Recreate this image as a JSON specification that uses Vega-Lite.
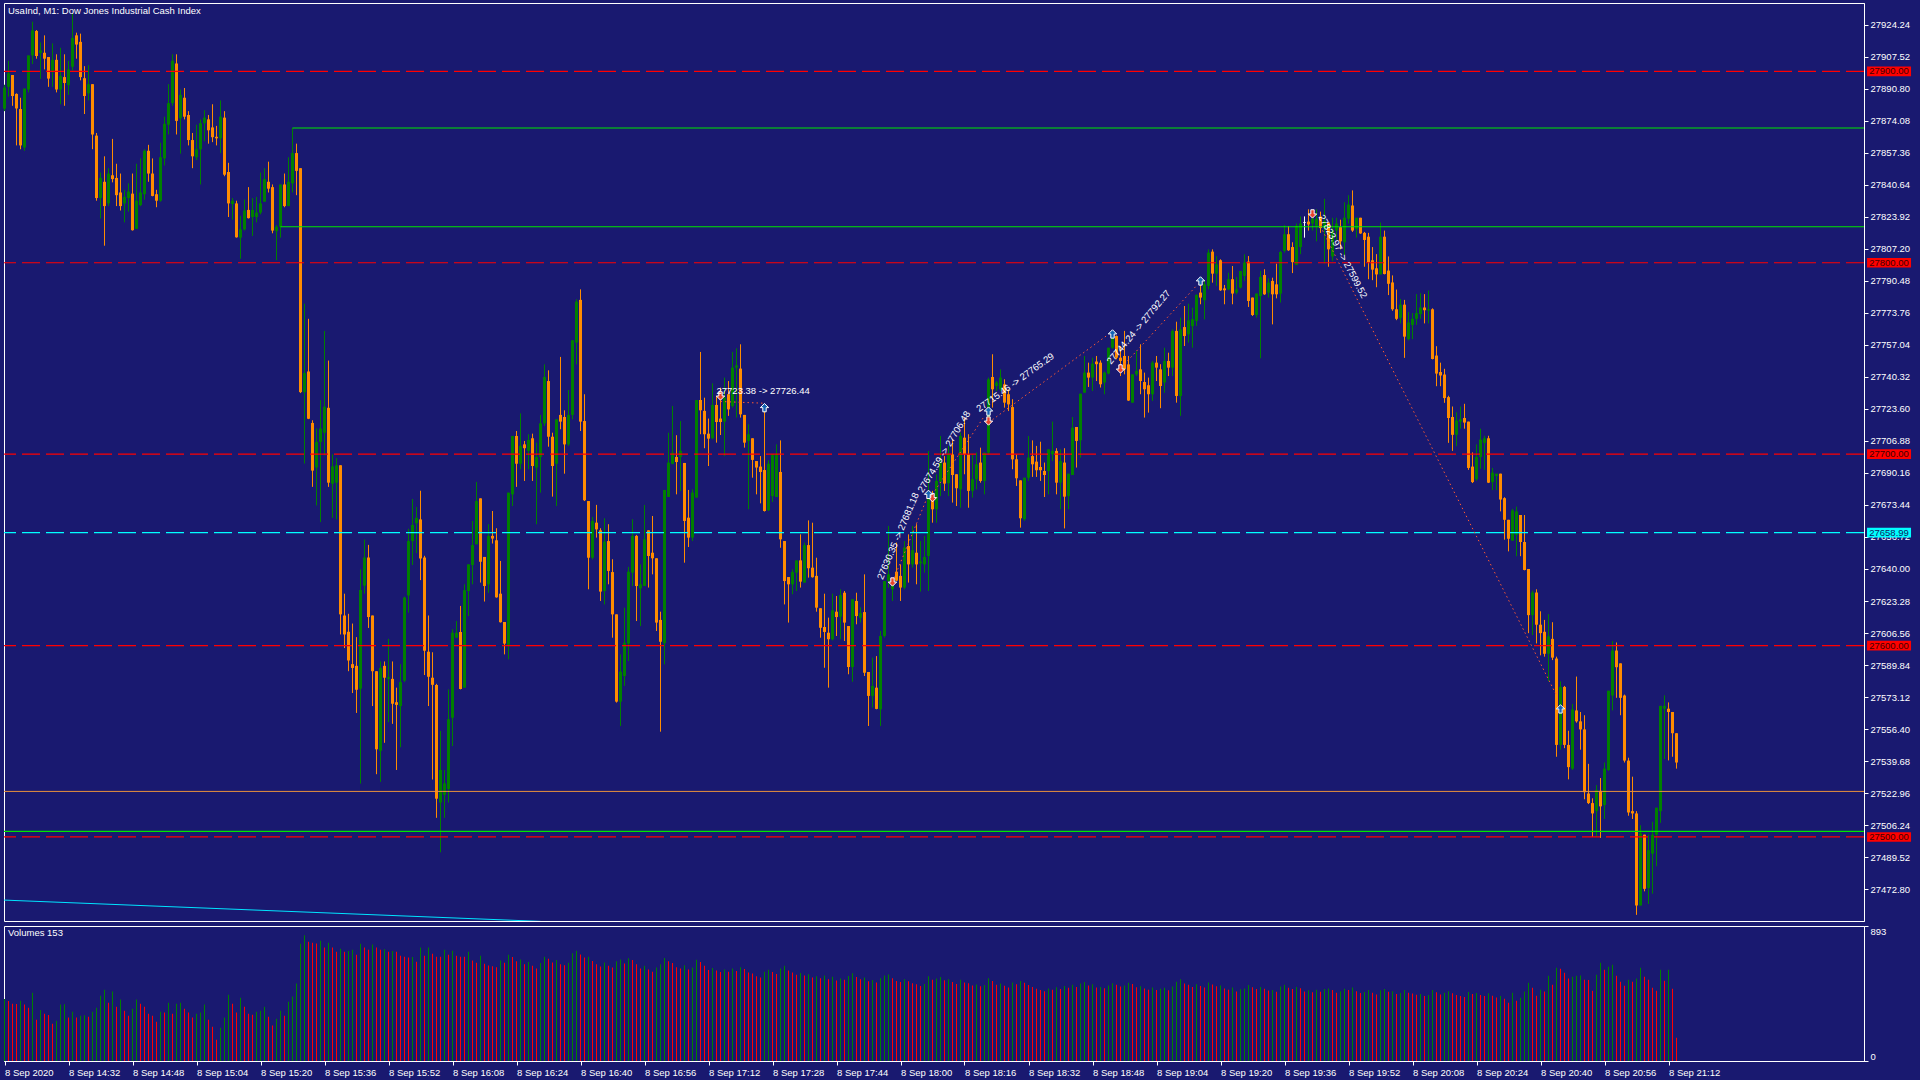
{
  "$schema": "https://vega.github.io/schema/vega-lite/v6.json",
  "background": "#191970",
  "padding": {"left": 2, "top": 2, "right": 8, "bottom": 4},
  "spacing": 3,
  "config": {
    "font": "Liberation Sans",
    "view": {"stroke": "#ffffff", "strokeWidth": 1, "fill": "#191970"},
    "scale": {"continuousPadding": 0},
    "axis": {"labelFont": "Liberation Sans", "labelFontSize": 9.5, "labelColor": "#ffffff", "tickColor": "#ffffff", "domainColor": "#ffffff", "grid": false, "tickSize": 4, "labelPadding": 2, "labelOverlap": false, "labelBound": false},
    "title": {"color": "#ffffff", "font": "Liberation Sans", "fontSize": 9.5, "fontWeight": "normal", "anchor": "start"}
  },
  "resolve": {"scale": {"x": "independent", "y": "independent"}},
  "data": {
    "format": {"parse": {"t": "utc:'%H:%M'"}},
    "values": [
      {"t":"14:16","o":27880.5,"h":27893.0,"l":27879.2,"c":27891.5,"v":410},
      {"t":"14:17","o":27891.9,"h":27905.5,"l":27886.8,"c":27899.0,"v":397},
      {"t":"14:18","o":27898.1,"h":27898.1,"l":27882.0,"c":27887.1,"v":379},
      {"t":"14:19","o":27888.2,"h":27888.5,"l":27861.3,"c":27880.6,"v":377},
      {"t":"14:20","o":27880.3,"h":27886.2,"l":27859.3,"c":27861.3,"v":399},
      {"t":"14:21","o":27860.2,"h":27891.0,"l":27858.5,"c":27891.0,"v":373},
      {"t":"14:22","o":27890.5,"h":27908.3,"l":27889.0,"c":27908.3,"v":353},
      {"t":"14:23","o":27908.3,"h":27925.9,"l":27903.8,"c":27921.4,"v":452},
      {"t":"14:24","o":27921.1,"h":27921.6,"l":27906.6,"c":27908.0,"v":273},
      {"t":"14:25","o":27909.6,"h":27915.1,"l":27896.0,"c":27911.0,"v":337},
      {"t":"14:26","o":27909.7,"h":27918.8,"l":27901.0,"c":27906.6,"v":313},
      {"t":"14:27","o":27907.5,"h":27907.5,"l":27891.9,"c":27896.2,"v":304},
      {"t":"14:28","o":27900.0,"h":27914.6,"l":27891.9,"c":27906.0,"v":247},
      {"t":"14:29","o":27906.0,"h":27908.9,"l":27889.0,"c":27890.5,"v":267},
      {"t":"14:30","o":27890.5,"h":27912.3,"l":27882.8,"c":27897.6,"v":373},
      {"t":"14:31","o":27897.0,"h":27908.9,"l":27882.0,"c":27893.9,"v":376},
      {"t":"14:32","o":27892.8,"h":27905.5,"l":27887.7,"c":27901.0,"v":287},
      {"t":"14:33","o":27902.4,"h":27930.1,"l":27900.4,"c":27917.4,"v":326},
      {"t":"14:34","o":27918.8,"h":27920.2,"l":27906.6,"c":27914.0,"v":287},
      {"t":"14:35","o":27915.4,"h":27919.7,"l":27895.3,"c":27897.0,"v":300},
      {"t":"14:36","o":27896.4,"h":27902.7,"l":27877.7,"c":27887.1,"v":302},
      {"t":"14:37","o":27888.5,"h":27903.2,"l":27884.8,"c":27893.3,"v":293},
      {"t":"14:38","o":27893.3,"h":27893.3,"l":27859.3,"c":27867.0,"v":326},
      {"t":"14:39","o":27866.4,"h":27867.8,"l":27832.4,"c":27833.8,"v":353},
      {"t":"14:40","o":27833.8,"h":27847.1,"l":27823.1,"c":27844.3,"v":432},
      {"t":"14:41","o":27842.3,"h":27855.6,"l":27808.9,"c":27829.6,"v":472},
      {"t":"14:42","o":27831.0,"h":27849.4,"l":27829.6,"c":27846.6,"v":386},
      {"t":"14:43","o":27845.7,"h":27864.7,"l":27842.0,"c":27843.7,"v":459},
      {"t":"14:44","o":27844.3,"h":27851.7,"l":27829.6,"c":27835.3,"v":359},
      {"t":"14:45","o":27836.7,"h":27846.6,"l":27827.3,"c":27829.6,"v":406},
      {"t":"14:46","o":27831.0,"h":27838.1,"l":27821.1,"c":27834.4,"v":333},
      {"t":"14:47","o":27833.8,"h":27841.5,"l":27826.7,"c":27837.2,"v":300},
      {"t":"14:48","o":27836.1,"h":27846.6,"l":27816.8,"c":27817.0,"v":346},
      {"t":"14:49","o":27817.7,"h":27851.7,"l":27817.7,"c":27832.4,"v":406},
      {"t":"14:50","o":27830.1,"h":27854.5,"l":27829.6,"c":27836.7,"v":379},
      {"t":"14:51","o":27835.8,"h":27859.3,"l":27833.0,"c":27858.5,"v":359},
      {"t":"14:52","o":27858.5,"h":27861.6,"l":27842.3,"c":27846.6,"v":313},
      {"t":"14:53","o":27846.6,"h":27854.5,"l":27834.7,"c":27834.9,"v":300},
      {"t":"14:54","o":27835.8,"h":27838.1,"l":27829.0,"c":27832.4,"v":260},
      {"t":"14:55","o":27832.4,"h":27862.7,"l":27831.9,"c":27855.1,"v":326},
      {"t":"14:56","o":27854.5,"h":27876.3,"l":27850.8,"c":27872.6,"v":320},
      {"t":"14:57","o":27872.1,"h":27893.3,"l":27867.0,"c":27883.4,"v":386},
      {"t":"14:58","o":27883.4,"h":27908.9,"l":27882.0,"c":27905.5,"v":313},
      {"t":"14:59","o":27904.1,"h":27908.9,"l":27867.0,"c":27874.1,"v":379},
      {"t":"15:00","o":27875.5,"h":27890.5,"l":27857.0,"c":27887.7,"v":386},
      {"t":"15:01","o":27886.2,"h":27891.3,"l":27874.9,"c":27876.3,"v":346},
      {"t":"15:02","o":27877.2,"h":27879.2,"l":27861.3,"c":27864.1,"v":320},
      {"t":"15:03","o":27864.1,"h":27867.8,"l":27849.4,"c":27855.6,"v":287},
      {"t":"15:04","o":27855.1,"h":27872.1,"l":27853.6,"c":27859.3,"v":313},
      {"t":"15:05","o":27859.3,"h":27874.9,"l":27840.9,"c":27872.9,"v":320},
      {"t":"15:06","o":27872.9,"h":27879.7,"l":27863.5,"c":27875.8,"v":373},
      {"t":"15:07","o":27874.9,"h":27877.2,"l":27862.2,"c":27869.2,"v":273},
      {"t":"15:08","o":27870.7,"h":27882.8,"l":27863.0,"c":27865.6,"v":227},
      {"t":"15:09","o":27865.8,"h":27871.5,"l":27861.3,"c":27865.0,"v":141},
      {"t":"15:10","o":27865.0,"h":27884.8,"l":27857.3,"c":27876.3,"v":220},
      {"t":"15:11","o":27875.8,"h":27879.2,"l":27845.2,"c":27846.0,"v":287},
      {"t":"15:12","o":27847.4,"h":27852.2,"l":27823.9,"c":27831.0,"v":439},
      {"t":"15:13","o":27830.7,"h":27833.8,"l":27822.5,"c":27832.4,"v":379},
      {"t":"15:14","o":27831.0,"h":27832.4,"l":27813.1,"c":27813.3,"v":320},
      {"t":"15:15","o":27813.1,"h":27824.5,"l":27802.1,"c":27817.4,"v":419},
      {"t":"15:16","o":27817.4,"h":27833.0,"l":27816.8,"c":27827.3,"v":359},
      {"t":"15:17","o":27827.6,"h":27839.5,"l":27823.1,"c":27823.3,"v":313},
      {"t":"15:18","o":27823.9,"h":27833.8,"l":27814.0,"c":27827.6,"v":306},
      {"t":"15:19","o":27823.9,"h":27834.4,"l":27821.1,"c":27826.2,"v":326},
      {"t":"15:20","o":27826.2,"h":27847.1,"l":27825.3,"c":27831.0,"v":333},
      {"t":"15:21","o":27831.9,"h":27849.4,"l":27831.9,"c":27843.7,"v":359},
      {"t":"15:22","o":27842.3,"h":27852.8,"l":27836.7,"c":27838.7,"v":293},
      {"t":"15:23","o":27839.5,"h":27840.9,"l":27815.4,"c":27816.8,"v":234},
      {"t":"15:24","o":27816.5,"h":27819.7,"l":27801.3,"c":27818.8,"v":280},
      {"t":"15:25","o":27818.8,"h":27840.9,"l":27813.1,"c":27840.9,"v":333},
      {"t":"15:26","o":27840.9,"h":27846.6,"l":27829.0,"c":27829.6,"v":300},
      {"t":"15:27","o":27829.6,"h":27855.1,"l":27829.6,"c":27842.3,"v":392},
      {"t":"15:28","o":27841.5,"h":27870.4,"l":27836.7,"c":27857.3,"v":426},
      {"t":"15:29","o":27857.3,"h":27862.2,"l":27835.3,"c":27848.0,"v":512},
      {"t":"15:30","o":27849.4,"h":27849.4,"l":27731.9,"c":27732.4,"v":776},
      {"t":"15:31","o":27732.4,"h":27778.6,"l":27695.1,"c":27742.4,"v":831},
      {"t":"15:32","o":27743.2,"h":27770.7,"l":27718.3,"c":27718.5,"v":789},
      {"t":"15:33","o":27716.3,"h":27717.7,"l":27682.9,"c":27691.4,"v":783},
      {"t":"15:34","o":27693.0,"h":27713.4,"l":27673.2,"c":27706.4,"v":778},
      {"t":"15:35","o":27706.4,"h":27728.2,"l":27664.5,"c":27713.4,"v":796},
      {"t":"15:36","o":27711.2,"h":27764.4,"l":27699.3,"c":27724.8,"v":750},
      {"t":"15:37","o":27724.2,"h":27748.9,"l":27682.9,"c":27685.1,"v":783},
      {"t":"15:38","o":27684.6,"h":27699.9,"l":27666.7,"c":27693.6,"v":750},
      {"t":"15:39","o":27685.1,"h":27697.9,"l":27665.9,"c":27694.2,"v":723},
      {"t":"15:40","o":27694.2,"h":27694.2,"l":27605.8,"c":27616.3,"v":743},
      {"t":"15:41","o":27615.7,"h":27627.1,"l":27598.7,"c":27605.8,"v":723},
      {"t":"15:42","o":27607.2,"h":27616.6,"l":27586.6,"c":27592.2,"v":728},
      {"t":"15:43","o":27590.3,"h":27611.5,"l":27575.2,"c":27588.3,"v":736},
      {"t":"15:44","o":27589.4,"h":27604.4,"l":27564.8,"c":27576.9,"v":703},
      {"t":"15:45","o":27577.5,"h":27639.8,"l":27527.9,"c":27629.0,"v":776},
      {"t":"15:46","o":27631.3,"h":27655.4,"l":27627.1,"c":27646.0,"v":750},
      {"t":"15:47","o":27646.0,"h":27652.6,"l":27609.2,"c":27614.9,"v":736},
      {"t":"15:48","o":27615.7,"h":27615.7,"l":27568.4,"c":27586.6,"v":770},
      {"t":"15:49","o":27586.6,"h":27586.6,"l":27532.8,"c":27545.8,"v":750},
      {"t":"15:50","o":27545.0,"h":27591.7,"l":27528.8,"c":27588.3,"v":736},
      {"t":"15:51","o":27589.4,"h":27591.7,"l":27549.2,"c":27583.2,"v":740},
      {"t":"15:52","o":27582.6,"h":27603.5,"l":27560.0,"c":27583.5,"v":723},
      {"t":"15:53","o":27582.6,"h":27591.7,"l":27559.1,"c":27569.6,"v":727},
      {"t":"15:54","o":27570.4,"h":27578.0,"l":27535.0,"c":27569.0,"v":723},
      {"t":"15:55","o":27568.4,"h":27590.3,"l":27546.9,"c":27580.9,"v":697},
      {"t":"15:56","o":27581.7,"h":27625.6,"l":27580.9,"c":27625.1,"v":690},
      {"t":"15:57","o":27626.2,"h":27661.0,"l":27617.2,"c":27654.6,"v":684},
      {"t":"15:58","o":27654.6,"h":27676.6,"l":27642.1,"c":27663.0,"v":688},
      {"t":"15:59","o":27663.9,"h":27672.4,"l":27648.3,"c":27666.7,"v":657},
      {"t":"16:00","o":27665.9,"h":27680.9,"l":27634.2,"c":27645.5,"v":750},
      {"t":"16:01","o":27646.0,"h":27646.9,"l":27584.6,"c":27597.3,"v":697},
      {"t":"16:02","o":27596.8,"h":27615.7,"l":27568.4,"c":27583.7,"v":750},
      {"t":"16:03","o":27583.2,"h":27596.5,"l":27530.0,"c":27579.5,"v":710},
      {"t":"16:04","o":27579.4,"h":27580.0,"l":27510.0,"c":27520.0,"v":690},
      {"t":"16:05","o":27518.0,"h":27555.4,"l":27492.0,"c":27535.0,"v":690},
      {"t":"16:06","o":27522.0,"h":27535.0,"l":27510.0,"c":27528.0,"v":736},
      {"t":"16:07","o":27525.0,"h":27577.1,"l":27518.0,"c":27561.5,"v":703},
      {"t":"16:08","o":27562.3,"h":27608.5,"l":27547.5,"c":27606.7,"v":730},
      {"t":"16:09","o":27604.1,"h":27612.8,"l":27604.1,"c":27606.7,"v":697},
      {"t":"16:10","o":27607.1,"h":27620.7,"l":27577.1,"c":27577.3,"v":690},
      {"t":"16:11","o":27578.0,"h":27632.0,"l":27578.0,"c":27628.9,"v":690},
      {"t":"16:12","o":27628.5,"h":27642.4,"l":27615.4,"c":27642.4,"v":723},
      {"t":"16:13","o":27642.1,"h":27665.1,"l":27632.0,"c":27652.5,"v":664},
      {"t":"16:14","o":27652.9,"h":27685.5,"l":27652.9,"c":27675.5,"v":650},
      {"t":"16:15","o":27676.9,"h":27676.9,"l":27632.9,"c":27643.8,"v":697},
      {"t":"16:16","o":27646.3,"h":27646.3,"l":27623.0,"c":27631.1,"v":644},
      {"t":"16:17","o":27632.0,"h":27663.4,"l":27627.6,"c":27657.3,"v":631},
      {"t":"16:18","o":27657.3,"h":27670.3,"l":27653.3,"c":27655.9,"v":626},
      {"t":"16:19","o":27655.0,"h":27661.3,"l":27625.0,"c":27625.2,"v":620},
      {"t":"16:20","o":27627.1,"h":27644.2,"l":27612.0,"c":27612.2,"v":664},
      {"t":"16:21","o":27612.3,"h":27612.3,"l":27595.4,"c":27601.0,"v":650},
      {"t":"16:22","o":27600.3,"h":27679.9,"l":27592.8,"c":27679.9,"v":702},
      {"t":"16:23","o":27679.0,"h":27709.5,"l":27672.9,"c":27709.5,"v":688},
      {"t":"16:24","o":27709.5,"h":27712.1,"l":27682.9,"c":27695.0,"v":660},
      {"t":"16:25","o":27695.0,"h":27721.3,"l":27692.1,"c":27704.3,"v":671},
      {"t":"16:26","o":27705.1,"h":27706.9,"l":27686.0,"c":27703.1,"v":640},
      {"t":"16:27","o":27701.7,"h":27710.4,"l":27692.1,"c":27707.4,"v":655},
      {"t":"16:28","o":27708.3,"h":27710.7,"l":27686.0,"c":27693.8,"v":630},
      {"t":"16:29","o":27693.0,"h":27706.0,"l":27663.4,"c":27698.5,"v":612},
      {"t":"16:30","o":27698.5,"h":27720.5,"l":27679.9,"c":27716.1,"v":648},
      {"t":"16:31","o":27716.1,"h":27746.9,"l":27714.7,"c":27740.3,"v":690},
      {"t":"16:32","o":27738.2,"h":27743.8,"l":27703.9,"c":27709.1,"v":676},
      {"t":"16:33","o":27709.1,"h":27711.2,"l":27677.8,"c":27693.8,"v":652},
      {"t":"16:34","o":27695.0,"h":27718.2,"l":27672.9,"c":27718.2,"v":668},
      {"t":"16:35","o":27720.5,"h":27750.8,"l":27713.0,"c":27717.0,"v":640},
      {"t":"16:36","o":27719.4,"h":27722.9,"l":27689.8,"c":27705.1,"v":633},
      {"t":"16:37","o":27705.1,"h":27733.5,"l":27704.3,"c":27720.5,"v":650},
      {"t":"16:38","o":27720.5,"h":27759.5,"l":27718.2,"c":27759.5,"v":712},
      {"t":"16:39","o":27758.3,"h":27780.9,"l":27746.9,"c":27779.7,"v":730},
      {"t":"16:40","o":27780.6,"h":27786.1,"l":27712.1,"c":27717.0,"v":705},
      {"t":"16:41","o":27717.3,"h":27731.3,"l":27675.5,"c":27675.9,"v":684},
      {"t":"16:42","o":27675.5,"h":27675.5,"l":27629.4,"c":27645.9,"v":690},
      {"t":"16:43","o":27645.9,"h":27667.2,"l":27645.0,"c":27665.1,"v":662},
      {"t":"16:44","o":27664.2,"h":27673.5,"l":27656.4,"c":27660.7,"v":640},
      {"t":"16:45","o":27660.2,"h":27661.3,"l":27623.3,"c":27628.2,"v":625},
      {"t":"16:46","o":27628.5,"h":27666.5,"l":27621.5,"c":27654.3,"v":652},
      {"t":"16:47","o":27654.6,"h":27663.4,"l":27632.0,"c":27639.0,"v":630},
      {"t":"16:48","o":27638.4,"h":27645.1,"l":27604.1,"c":27616.3,"v":618},
      {"t":"16:49","o":27616.3,"h":27616.3,"l":27570.2,"c":27570.7,"v":660},
      {"t":"16:50","o":27570.7,"h":27595.4,"l":27558.0,"c":27586.4,"v":672},
      {"t":"16:51","o":27584.1,"h":27619.8,"l":27578.9,"c":27601.5,"v":645},
      {"t":"16:52","o":27601.0,"h":27641.1,"l":27591.9,"c":27638.6,"v":680},
      {"t":"16:53","o":27638.1,"h":27666.0,"l":27631.1,"c":27657.3,"v":668},
      {"t":"16:54","o":27657.3,"h":27657.8,"l":27612.8,"c":27631.1,"v":640},
      {"t":"16:55","o":27629.9,"h":27642.4,"l":27610.2,"c":27632.0,"v":612},
      {"t":"16:56","o":27631.1,"h":27673.5,"l":27631.1,"c":27655.5,"v":630},
      {"t":"16:57","o":27660.2,"h":27660.2,"l":27630.3,"c":27646.8,"v":605},
      {"t":"16:58","o":27648.5,"h":27667.7,"l":27637.2,"c":27645.6,"v":590},
      {"t":"16:59","o":27645.6,"h":27645.6,"l":27607.6,"c":27612.0,"v":618},
      {"t":"17:00","o":27613.4,"h":27617.7,"l":27555.0,"c":27602.0,"v":640},
      {"t":"17:01","o":27601.2,"h":27681.3,"l":27590.2,"c":27681.3,"v":682},
      {"t":"17:02","o":27677.6,"h":27711.2,"l":27677.6,"c":27695.6,"v":660},
      {"t":"17:03","o":27695.0,"h":27725.2,"l":27694.7,"c":27700.8,"v":648},
      {"t":"17:04","o":27698.5,"h":27709.9,"l":27679.0,"c":27695.9,"v":620},
      {"t":"17:05","o":27698.5,"h":27717.3,"l":27680.8,"c":27701.7,"v":612},
      {"t":"17:06","o":27695.4,"h":27695.4,"l":27643.3,"c":27665.1,"v":634},
      {"t":"17:07","o":27666.8,"h":27681.3,"l":27651.5,"c":27656.4,"v":605},
      {"t":"17:08","o":27656.4,"h":27681.6,"l":27654.6,"c":27679.9,"v":618},
      {"t":"17:09","o":27677.3,"h":27728.3,"l":27677.3,"c":27728.3,"v":670},
      {"t":"17:10","o":27728.3,"h":27753.4,"l":27710.4,"c":27722.9,"v":655},
      {"t":"17:11","o":27722.6,"h":27729.5,"l":27703.1,"c":27710.4,"v":630},
      {"t":"17:12","o":27710.7,"h":27718.6,"l":27693.8,"c":27708.1,"v":602},
      {"t":"17:13","o":27708.3,"h":27737.0,"l":27707.8,"c":27725.7,"v":615},
      {"t":"17:14","o":27725.7,"h":27730.4,"l":27706.0,"c":27716.8,"v":598},
      {"t":"17:15","o":27718.6,"h":27734.7,"l":27710.0,"c":27716.8,"v":588},
      {"t":"17:16","o":27717.0,"h":27740.0,"l":27699.0,"c":27729.5,"v":606},
      {"t":"17:17","o":27731.3,"h":27738.2,"l":27720.0,"c":27723.4,"v":590},
      {"t":"17:18","o":27725.2,"h":27753.4,"l":27724.3,"c":27745.2,"v":612},
      {"t":"17:19","o":27745.2,"h":27755.3,"l":27719.1,"c":27746.4,"v":596},
      {"t":"17:20","o":27744.7,"h":27757.4,"l":27719.1,"c":27720.8,"v":620},
      {"t":"17:21","o":27720.5,"h":27720.5,"l":27703.4,"c":27706.0,"v":608},
      {"t":"17:22","o":27706.9,"h":27715.6,"l":27671.2,"c":27710.4,"v":585},
      {"t":"17:23","o":27708.3,"h":27708.3,"l":27687.7,"c":27697.0,"v":578},
      {"t":"17:24","o":27696.4,"h":27696.4,"l":27679.0,"c":27693.0,"v":560},
      {"t":"17:25","o":27693.5,"h":27699.0,"l":27674.3,"c":27690.7,"v":552},
      {"t":"17:26","o":27691.7,"h":27724.3,"l":27670.0,"c":27670.3,"v":590},
      {"t":"17:27","o":27670.7,"h":27696.8,"l":27670.3,"c":27695.0,"v":604},
      {"t":"17:28","o":27678.1,"h":27699.9,"l":27675.0,"c":27699.9,"v":588},
      {"t":"17:29","o":27677.6,"h":27705.1,"l":27677.6,"c":27699.9,"v":575},
      {"t":"17:30","o":27690.7,"h":27707.2,"l":27651.1,"c":27655.5,"v":612},
      {"t":"17:31","o":27654.6,"h":27654.6,"l":27621.5,"c":27633.7,"v":630},
      {"t":"17:32","o":27635.8,"h":27635.8,"l":27612.0,"c":27632.0,"v":598},
      {"t":"17:33","o":27632.0,"h":27639.8,"l":27626.8,"c":27638.4,"v":585},
      {"t":"17:34","o":27638.1,"h":27644.5,"l":27628.5,"c":27644.5,"v":570},
      {"t":"17:35","o":27644.5,"h":27658.1,"l":27630.3,"c":27633.4,"v":582},
      {"t":"17:36","o":27632.9,"h":27653.8,"l":27632.9,"c":27652.5,"v":566},
      {"t":"17:37","o":27652.5,"h":27665.4,"l":27635.5,"c":27640.4,"v":574},
      {"t":"17:38","o":27640.7,"h":27664.2,"l":27635.5,"c":27635.7,"v":552},
      {"t":"17:39","o":27636.4,"h":27645.9,"l":27617.7,"c":27619.8,"v":560},
      {"t":"17:40","o":27619.5,"h":27619.5,"l":27604.1,"c":27609.3,"v":548},
      {"t":"17:41","o":27609.7,"h":27627.1,"l":27588.4,"c":27607.1,"v":566},
      {"t":"17:42","o":27606.7,"h":27614.6,"l":27578.0,"c":27603.3,"v":540},
      {"t":"17:43","o":27603.3,"h":27627.1,"l":27602.7,"c":27618.4,"v":558},
      {"t":"17:44","o":27617.7,"h":27625.9,"l":27605.0,"c":27614.9,"v":532},
      {"t":"17:45","o":27615.1,"h":27629.4,"l":27603.3,"c":27626.4,"v":546},
      {"t":"17:46","o":27627.6,"h":27628.5,"l":27602.4,"c":27612.0,"v":538},
      {"t":"17:47","o":27610.2,"h":27610.2,"l":27585.0,"c":27588.8,"v":562},
      {"t":"17:48","o":27588.8,"h":27624.2,"l":27581.1,"c":27624.2,"v":580},
      {"t":"17:49","o":27623.3,"h":27627.6,"l":27611.1,"c":27615.4,"v":556},
      {"t":"17:50","o":27614.5,"h":27620.0,"l":27612.0,"c":27617.0,"v":540},
      {"t":"17:51","o":27617.5,"h":27637.2,"l":27584.1,"c":27585.8,"v":552},
      {"t":"17:52","o":27586.2,"h":27586.2,"l":27558.0,"c":27573.7,"v":528},
      {"t":"17:53","o":27573.7,"h":27593.7,"l":27567.6,"c":27578.9,"v":535},
      {"t":"17:54","o":27578.0,"h":27594.5,"l":27566.7,"c":27566.9,"v":520},
      {"t":"17:55","o":27566.7,"h":27607.6,"l":27558.0,"c":27605.0,"v":548},
      {"t":"17:56","o":27605.0,"h":27633.7,"l":27604.1,"c":27633.7,"v":565},
      {"t":"17:57","o":27633.7,"h":27662.5,"l":27630.3,"c":27637.2,"v":572},
      {"t":"17:58","o":27629.4,"h":27633.7,"l":27623.3,"c":27632.0,"v":548},
      {"t":"17:59","o":27638.6,"h":27653.8,"l":27633.7,"c":27633.9,"v":530},
      {"t":"18:00","o":27636.4,"h":27642.4,"l":27623.3,"c":27630.3,"v":522},
      {"t":"18:01","o":27630.3,"h":27654.6,"l":27629.4,"c":27651.2,"v":540},
      {"t":"18:02","o":27652.0,"h":27658.1,"l":27632.9,"c":27642.4,"v":528},
      {"t":"18:03","o":27642.4,"h":27662.5,"l":27640.7,"c":27649.8,"v":515},
      {"t":"18:04","o":27648.5,"h":27663.4,"l":27632.0,"c":27642.4,"v":508},
      {"t":"18:05","o":27643.0,"h":27654.6,"l":27628.2,"c":27643.9,"v":496},
      {"t":"18:06","o":27642.4,"h":27657.2,"l":27638.1,"c":27646.3,"v":510},
      {"t":"18:07","o":27646.8,"h":27701.7,"l":27628.5,"c":27679.0,"v":560},
      {"t":"18:08","o":27679.0,"h":27680.8,"l":27664.2,"c":27671.2,"v":538},
      {"t":"18:09","o":27671.2,"h":27689.5,"l":27664.2,"c":27686.0,"v":545},
      {"t":"18:10","o":27685.7,"h":27709.5,"l":27678.1,"c":27695.6,"v":556},
      {"t":"18:11","o":27695.6,"h":27699.0,"l":27680.8,"c":27684.6,"v":534},
      {"t":"18:12","o":27684.8,"h":27704.3,"l":27678.1,"c":27699.9,"v":540},
      {"t":"18:13","o":27699.9,"h":27707.7,"l":27674.7,"c":27689.1,"v":522},
      {"t":"18:14","o":27689.5,"h":27689.5,"l":27672.9,"c":27682.2,"v":510},
      {"t":"18:15","o":27681.6,"h":27711.2,"l":27672.0,"c":27709.5,"v":538},
      {"t":"18:16","o":27708.6,"h":27719.1,"l":27689.5,"c":27699.9,"v":520},
      {"t":"18:17","o":27699.9,"h":27710.4,"l":27672.0,"c":27680.8,"v":514},
      {"t":"18:18","o":27680.8,"h":27699.9,"l":27677.3,"c":27686.9,"v":500},
      {"t":"18:19","o":27686.9,"h":27700.8,"l":27681.6,"c":27694.7,"v":506},
      {"t":"18:20","o":27695.6,"h":27703.4,"l":27685.1,"c":27686.0,"v":494},
      {"t":"18:21","o":27686.0,"h":27700.8,"l":27679.0,"c":27700.8,"v":502},
      {"t":"18:22","o":27700.8,"h":27740.0,"l":27699.9,"c":27739.1,"v":548},
      {"t":"18:23","o":27740.3,"h":27752.2,"l":27724.3,"c":27733.9,"v":530},
      {"t":"18:24","o":27735.6,"h":27738.2,"l":27733.0,"c":27737.4,"v":505},
      {"t":"18:25","o":27733.9,"h":27744.3,"l":27733.0,"c":27740.0,"v":512},
      {"t":"18:26","o":27736.5,"h":27739.1,"l":27724.3,"c":27726.9,"v":498},
      {"t":"18:27","o":27731.3,"h":27733.9,"l":27722.5,"c":27726.0,"v":486},
      {"t":"18:28","o":27724.6,"h":27728.7,"l":27692.1,"c":27697.3,"v":520},
      {"t":"18:29","o":27697.3,"h":27699.9,"l":27683.4,"c":27687.4,"v":508},
      {"t":"18:30","o":27686.3,"h":27686.3,"l":27661.6,"c":27666.5,"v":530},
      {"t":"18:31","o":27666.0,"h":27687.7,"l":27665.1,"c":27687.7,"v":518},
      {"t":"18:32","o":27687.7,"h":27709.5,"l":27686.0,"c":27698.2,"v":502},
      {"t":"18:33","o":27699.0,"h":27707.2,"l":27688.1,"c":27694.7,"v":490},
      {"t":"18:34","o":27696.1,"h":27704.3,"l":27688.1,"c":27691.6,"v":478},
      {"t":"18:35","o":27693.3,"h":27706.5,"l":27686.0,"c":27691.6,"v":470},
      {"t":"18:36","o":27691.2,"h":27695.6,"l":27677.6,"c":27689.1,"v":462},
      {"t":"18:37","o":27691.2,"h":27702.5,"l":27679.0,"c":27702.5,"v":480},
      {"t":"18:38","o":27699.9,"h":27717.0,"l":27696.4,"c":27701.7,"v":472},
      {"t":"18:39","o":27701.7,"h":27703.1,"l":27679.0,"c":27685.1,"v":488},
      {"t":"18:40","o":27685.1,"h":27702.5,"l":27671.2,"c":27696.4,"v":476},
      {"t":"18:41","o":27695.6,"h":27703.1,"l":27661.2,"c":27677.8,"v":496},
      {"t":"18:42","o":27678.1,"h":27689.8,"l":27671.2,"c":27689.8,"v":484},
      {"t":"18:43","o":27689.1,"h":27719.4,"l":27689.1,"c":27713.8,"v":505},
      {"t":"18:44","o":27714.2,"h":27714.2,"l":27693.0,"c":27706.9,"v":490},
      {"t":"18:45","o":27707.2,"h":27731.6,"l":27698.2,"c":27731.6,"v":512},
      {"t":"18:46","o":27732.1,"h":27751.3,"l":27732.1,"c":27742.6,"v":522},
      {"t":"18:47","o":27742.6,"h":27747.8,"l":27735.1,"c":27740.0,"v":500},
      {"t":"18:48","o":27740.0,"h":27750.4,"l":27733.0,"c":27747.3,"v":508},
      {"t":"18:49","o":27748.4,"h":27751.3,"l":27738.2,"c":27747.0,"v":486},
      {"t":"18:50","o":27747.8,"h":27749.0,"l":27734.8,"c":27736.5,"v":490},
      {"t":"18:51","o":27737.4,"h":27743.1,"l":27731.3,"c":27742.6,"v":482},
      {"t":"18:52","o":27742.1,"h":27755.6,"l":27741.7,"c":27755.6,"v":500},
      {"t":"18:53","o":27755.6,"h":27763.5,"l":27755.0,"c":27762.6,"v":515},
      {"t":"18:54","o":27761.7,"h":27762.0,"l":27749.6,"c":27750.4,"v":504},
      {"t":"18:55","o":27750.4,"h":27756.5,"l":27740.8,"c":27748.7,"v":492},
      {"t":"18:56","o":27751.3,"h":27764.4,"l":27741.7,"c":27744.3,"v":500},
      {"t":"18:57","o":27746.9,"h":27751.3,"l":27727.8,"c":27728.0,"v":518},
      {"t":"18:58","o":27726.9,"h":27741.7,"l":27726.9,"c":27741.7,"v":509},
      {"t":"18:59","o":27741.7,"h":27753.9,"l":27740.8,"c":27743.5,"v":488},
      {"t":"19:00","o":27744.3,"h":27757.4,"l":27731.3,"c":27738.2,"v":494},
      {"t":"19:01","o":27737.7,"h":27742.6,"l":27719.1,"c":27733.9,"v":480},
      {"t":"19:02","o":27736.0,"h":27740.0,"l":27721.7,"c":27731.3,"v":472},
      {"t":"19:03","o":27731.3,"h":27748.7,"l":27727.8,"c":27747.8,"v":486},
      {"t":"19:04","o":27747.8,"h":27751.3,"l":27738.2,"c":27745.2,"v":470},
      {"t":"19:05","o":27744.3,"h":27747.0,"l":27724.0,"c":27735.6,"v":478},
      {"t":"19:06","o":27737.4,"h":27755.6,"l":27732.1,"c":27748.7,"v":485},
      {"t":"19:07","o":27748.7,"h":27753.0,"l":27740.8,"c":27745.2,"v":468},
      {"t":"19:08","o":27745.2,"h":27765.2,"l":27740.8,"c":27764.4,"v":492},
      {"t":"19:09","o":27764.4,"h":27769.2,"l":27726.9,"c":27730.4,"v":525},
      {"t":"19:10","o":27730.4,"h":27771.3,"l":27720.0,"c":27765.2,"v":540},
      {"t":"19:11","o":27766.4,"h":27777.4,"l":27756.5,"c":27761.7,"v":512},
      {"t":"19:12","o":27762.6,"h":27778.6,"l":27758.3,"c":27769.9,"v":505},
      {"t":"19:13","o":27766.9,"h":27776.5,"l":27755.6,"c":27770.5,"v":490},
      {"t":"19:14","o":27769.6,"h":27783.5,"l":27767.0,"c":27783.2,"v":508},
      {"t":"19:15","o":27784.4,"h":27791.3,"l":27778.3,"c":27781.8,"v":496},
      {"t":"19:16","o":27780.4,"h":27790.5,"l":27770.4,"c":27788.7,"v":486},
      {"t":"19:17","o":27787.9,"h":27807.0,"l":27786.1,"c":27805.3,"v":520},
      {"t":"19:18","o":27805.8,"h":27807.0,"l":27789.6,"c":27794.3,"v":506},
      {"t":"19:19","o":27794.3,"h":27803.5,"l":27787.9,"c":27799.2,"v":494},
      {"t":"19:20","o":27801.3,"h":27801.8,"l":27785.3,"c":27785.6,"v":500},
      {"t":"19:21","o":27786.6,"h":27788.4,"l":27778.3,"c":27785.6,"v":480},
      {"t":"19:22","o":27786.1,"h":27794.8,"l":27785.6,"c":27791.4,"v":472},
      {"t":"19:23","o":27791.4,"h":27798.3,"l":27778.3,"c":27783.9,"v":486},
      {"t":"19:24","o":27784.4,"h":27792.6,"l":27783.5,"c":27786.1,"v":460},
      {"t":"19:25","o":27787.0,"h":27795.7,"l":27786.6,"c":27795.7,"v":474},
      {"t":"19:26","o":27793.1,"h":27804.4,"l":27790.5,"c":27800.1,"v":480},
      {"t":"19:27","o":27800.6,"h":27803.5,"l":27776.9,"c":27780.0,"v":502},
      {"t":"19:28","o":27781.8,"h":27781.8,"l":27772.2,"c":27772.7,"v":488},
      {"t":"19:29","o":27772.7,"h":27783.9,"l":27771.3,"c":27783.9,"v":476},
      {"t":"19:30","o":27782.6,"h":27795.7,"l":27750.1,"c":27792.6,"v":490},
      {"t":"19:31","o":27793.6,"h":27796.6,"l":27783.2,"c":27783.5,"v":478},
      {"t":"19:32","o":27784.4,"h":27791.9,"l":27781.8,"c":27789.6,"v":466},
      {"t":"19:33","o":27790.5,"h":27792.2,"l":27767.8,"c":27783.5,"v":470},
      {"t":"19:34","o":27788.7,"h":27799.5,"l":27781.4,"c":27783.5,"v":458},
      {"t":"19:35","o":27783.9,"h":27806.2,"l":27779.2,"c":27805.6,"v":492},
      {"t":"19:36","o":27806.2,"h":27819.7,"l":27805.3,"c":27814.9,"v":505},
      {"t":"19:37","o":27814.9,"h":27819.2,"l":27806.2,"c":27806.5,"v":484},
      {"t":"19:38","o":27808.2,"h":27810.7,"l":27794.6,"c":27800.3,"v":476},
      {"t":"19:39","o":27798.8,"h":27820.5,"l":27798.8,"c":27819.3,"v":490},
      {"t":"19:40","o":27808.2,"h":27824.2,"l":27804.5,"c":27820.5,"v":482},
      {"t":"19:41","o":27821.0,"h":27824.2,"l":27813.1,"c":27821.0,"v":460},
      {"t":"19:42","o":27821.5,"h":27827.9,"l":27816.8,"c":27820.0,"v":468},
      {"t":"19:43","o":27820.5,"h":27825.5,"l":27816.8,"c":27823.0,"v":455},
      {"t":"19:44","o":27819.3,"h":27827.9,"l":27811.2,"c":27823.0,"v":472},
      {"t":"19:45","o":27824.2,"h":27826.7,"l":27815.6,"c":27818.1,"v":458},
      {"t":"19:46","o":27818.1,"h":27833.4,"l":27799.6,"c":27821.8,"v":476},
      {"t":"19:47","o":27821.0,"h":27821.0,"l":27797.9,"c":27807.0,"v":480},
      {"t":"19:48","o":27803.3,"h":27823.5,"l":27800.8,"c":27816.8,"v":470},
      {"t":"19:49","o":27816.8,"h":27823.5,"l":27811.9,"c":27820.5,"v":452},
      {"t":"19:50","o":27818.6,"h":27822.5,"l":27807.0,"c":27811.2,"v":462},
      {"t":"19:51","o":27810.7,"h":27831.6,"l":27803.8,"c":27823.5,"v":478},
      {"t":"19:52","o":27823.0,"h":27835.3,"l":27820.5,"c":27830.4,"v":470},
      {"t":"19:53","o":27829.9,"h":27837.8,"l":27816.1,"c":27816.8,"v":486},
      {"t":"19:54","o":27817.6,"h":27823.5,"l":27813.1,"c":27823.5,"v":462},
      {"t":"19:55","o":27823.5,"h":27823.5,"l":27815.1,"c":27815.3,"v":450},
      {"t":"19:56","o":27815.6,"h":27816.1,"l":27797.9,"c":27811.9,"v":456},
      {"t":"19:57","o":27813.6,"h":27815.6,"l":27791.4,"c":27800.3,"v":470},
      {"t":"19:58","o":27801.3,"h":27808.2,"l":27790.9,"c":27796.4,"v":452},
      {"t":"19:59","o":27797.1,"h":27804.5,"l":27787.2,"c":27793.9,"v":440},
      {"t":"20:00","o":27793.9,"h":27821.0,"l":27793.9,"c":27813.6,"v":468},
      {"t":"20:01","o":27813.6,"h":27816.8,"l":27793.9,"c":27794.1,"v":476},
      {"t":"20:02","o":27795.9,"h":27803.3,"l":27783.1,"c":27789.0,"v":458},
      {"t":"20:03","o":27789.7,"h":27793.4,"l":27774.9,"c":27775.7,"v":462},
      {"t":"20:04","o":27775.7,"h":27786.0,"l":27770.0,"c":27770.7,"v":444},
      {"t":"20:05","o":27771.2,"h":27781.1,"l":27768.3,"c":27778.1,"v":450},
      {"t":"20:06","o":27778.1,"h":27780.6,"l":27750.3,"c":27761.4,"v":470},
      {"t":"20:07","o":27760.1,"h":27774.2,"l":27759.4,"c":27768.8,"v":452},
      {"t":"20:08","o":27767.5,"h":27773.7,"l":27760.1,"c":27770.7,"v":446},
      {"t":"20:09","o":27770.7,"h":27783.6,"l":27767.5,"c":27773.7,"v":438},
      {"t":"20:10","o":27773.2,"h":27784.1,"l":27770.7,"c":27776.6,"v":444},
      {"t":"20:11","o":27776.6,"h":27783.6,"l":27768.3,"c":27775.2,"v":430},
      {"t":"20:12","o":27775.0,"h":27785.5,"l":27768.3,"c":27775.7,"v":436},
      {"t":"20:13","o":27775.7,"h":27776.2,"l":27749.5,"c":27749.7,"v":470},
      {"t":"20:14","o":27751.5,"h":27756.4,"l":27735.5,"c":27742.1,"v":455},
      {"t":"20:15","o":27742.9,"h":27747.8,"l":27735.5,"c":27741.1,"v":440},
      {"t":"20:16","o":27741.6,"h":27744.6,"l":27726.8,"c":27729.3,"v":452},
      {"t":"20:17","o":27729.8,"h":27730.5,"l":27705.9,"c":27718.9,"v":462},
      {"t":"20:18","o":27719.4,"h":27724.9,"l":27701.7,"c":27710.1,"v":448},
      {"t":"20:19","o":27710.1,"h":27721.9,"l":27704.2,"c":27717.5,"v":436},
      {"t":"20:20","o":27717.0,"h":27724.9,"l":27713.3,"c":27718.2,"v":430},
      {"t":"20:21","o":27718.9,"h":27726.3,"l":27713.3,"c":27716.5,"v":424},
      {"t":"20:22","o":27717.0,"h":27717.0,"l":27691.8,"c":27692.8,"v":456},
      {"t":"20:23","o":27693.5,"h":27700.9,"l":27684.9,"c":27685.4,"v":444},
      {"t":"20:24","o":27686.9,"h":27705.1,"l":27686.1,"c":27698.5,"v":450},
      {"t":"20:25","o":27698.5,"h":27713.3,"l":27692.3,"c":27707.6,"v":436},
      {"t":"20:26","o":27705.9,"h":27709.6,"l":27691.8,"c":27708.3,"v":430},
      {"t":"20:27","o":27708.3,"h":27709.6,"l":27684.9,"c":27685.1,"v":448},
      {"t":"20:28","o":27685.4,"h":27692.8,"l":27681.2,"c":27690.3,"v":432},
      {"t":"20:29","o":27688.6,"h":27689.8,"l":27681.2,"c":27689.8,"v":420},
      {"t":"20:30","o":27689.8,"h":27689.8,"l":27670.1,"c":27676.3,"v":430},
      {"t":"20:31","o":27677.0,"h":27677.5,"l":27655.3,"c":27665.7,"v":412},
      {"t":"20:32","o":27665.7,"h":27665.7,"l":27649.2,"c":27655.8,"v":386},
      {"t":"20:33","o":27654.8,"h":27671.4,"l":27654.8,"c":27670.6,"v":452},
      {"t":"20:34","o":27657.8,"h":27672.6,"l":27646.7,"c":27670.1,"v":399},
      {"t":"20:35","o":27668.2,"h":27668.2,"l":27646.7,"c":27654.1,"v":419},
      {"t":"20:36","o":27654.1,"h":27668.2,"l":27639.3,"c":27639.5,"v":459},
      {"t":"20:37","o":27640.0,"h":27640.0,"l":27606.5,"c":27615.9,"v":518},
      {"t":"20:38","o":27615.9,"h":27628.7,"l":27605.5,"c":27627.7,"v":485},
      {"t":"20:39","o":27627.7,"h":27629.4,"l":27601.1,"c":27610.9,"v":432},
      {"t":"20:40","o":27610.9,"h":27617.9,"l":27594.9,"c":27606.5,"v":472},
      {"t":"20:41","o":27607.2,"h":27613.4,"l":27594.2,"c":27595.7,"v":459},
      {"t":"20:42","o":27595.7,"h":27616.4,"l":27581.3,"c":27604.8,"v":564},
      {"t":"20:43","o":27603.5,"h":27612.2,"l":27592.4,"c":27593.7,"v":505},
      {"t":"20:44","o":27593.2,"h":27594.2,"l":27541.9,"c":27548.1,"v":617},
      {"t":"20:45","o":27548.1,"h":27581.3,"l":27545.6,"c":27578.4,"v":611},
      {"t":"20:46","o":27578.4,"h":27578.9,"l":27546.4,"c":27548.1,"v":584},
      {"t":"20:47","o":27548.1,"h":27555.5,"l":27530.1,"c":27536.5,"v":545},
      {"t":"20:48","o":27535.7,"h":27569.5,"l":27535.0,"c":27566.6,"v":558},
      {"t":"20:49","o":27566.1,"h":27583.8,"l":27559.7,"c":27560.4,"v":564},
      {"t":"20:50","o":27560.4,"h":27565.3,"l":27545.6,"c":27556.2,"v":566},
      {"t":"20:51","o":27556.2,"h":27563.6,"l":27519.7,"c":27523.4,"v":538},
      {"t":"20:52","o":27522.7,"h":27538.2,"l":27517.2,"c":27517.7,"v":536},
      {"t":"20:53","o":27517.7,"h":27520.2,"l":27500.0,"c":27512.3,"v":465},
      {"t":"20:54","o":27513.5,"h":27527.1,"l":27500.0,"c":27524.6,"v":571},
      {"t":"20:55","o":27524.1,"h":27530.8,"l":27499.5,"c":27516.0,"v":650},
      {"t":"20:56","o":27516.7,"h":27538.9,"l":27509.4,"c":27535.7,"v":604},
      {"t":"20:57","o":27535.0,"h":27576.4,"l":27534.5,"c":27576.4,"v":624},
      {"t":"20:58","o":27573.9,"h":27602.3,"l":27566.1,"c":27597.4,"v":637},
      {"t":"20:59","o":27597.4,"h":27601.6,"l":27572.7,"c":27588.7,"v":564},
      {"t":"21:00","o":27590.7,"h":27590.7,"l":27563.6,"c":27572.7,"v":525},
      {"t":"21:01","o":27573.9,"h":27574.4,"l":27538.9,"c":27539.9,"v":498},
      {"t":"21:02","o":27539.9,"h":27541.4,"l":27511.1,"c":27512.8,"v":538},
      {"t":"21:03","o":27513.5,"h":27531.5,"l":27509.4,"c":27512.3,"v":525},
      {"t":"21:04","o":27512.3,"h":27513.5,"l":27459.3,"c":27464.2,"v":545},
      {"t":"21:05","o":27464.2,"h":27506.1,"l":27464.2,"c":27501.9,"v":617},
      {"t":"21:06","o":27501.2,"h":27501.2,"l":27471.6,"c":27472.9,"v":558},
      {"t":"21:07","o":27473.3,"h":27501.2,"l":27465.0,"c":27493.1,"v":538},
      {"t":"21:08","o":27491.3,"h":27507.9,"l":27470.4,"c":27501.2,"v":485},
      {"t":"21:09","o":27501.2,"h":27515.3,"l":27484.7,"c":27515.3,"v":465},
      {"t":"21:10","o":27513.5,"h":27568.5,"l":27507.4,"c":27568.5,"v":604},
      {"t":"21:11","o":27567.0,"h":27574.0,"l":27540.7,"c":27568.5,"v":531},
      {"t":"21:12","o":27567.0,"h":27570.3,"l":27540.0,"c":27565.3,"v":604},
      {"t":"21:13","o":27565.3,"h":27565.3,"l":27541.9,"c":27554.2,"v":478},
      {"t":"21:14","o":27554.2,"h":27554.2,"l":27535.7,"c":27538.9,"v":153}
    ]
  },
  "datasets": {
    "rounds": [{"p": 27900}, {"p": 27800}, {"p": 27700}, {"p": 27600}, {"p": 27500}],
    "pivot": [{"p": 27658.99}]
  },
  "vconcat": [
    {
      "width": 1860,
      "height": 918,
      "title": {"text": "UsaInd, M1:  Dow Jones Industrial Cash Index", "offset": -12, "dx": 5},
      "resolve": {"axis": {"y": "independent"}},
      "layer": [
        {
          "mark": {"type": "rule", "strokeWidth": 1},
          "encoding": {
            "x": {"field": "t", "type": "temporal", "axis": null,
              "scale": {"type": "utc", "nice": false, "padding": 0, "domain": [
                {"year": 1900, "month": 1, "date": 1, "hours": 14, "minutes": 15, "seconds": 52, "milliseconds": 500, "utc": true},
                {"year": 1900, "month": 1, "date": 1, "hours": 22, "minutes": 0, "seconds": 52, "milliseconds": 500, "utc": true}]}},
            "y": {"field": "l", "type": "quantitative",
              "scale": {"domain": [27456.1, 27935.7], "zero": false, "nice": false, "padding": 0},
              "axis": {"orient": "right", "title": null, "format": ".2f", "labelFlush": false, "labelOverlap": false, "labelBound": false,
                "values": [27924.24, 27907.52, 27890.80, 27874.08, 27857.36, 27840.64, 27823.92, 27807.20, 27790.48, 27773.76, 27757.04, 27740.32, 27723.60, 27706.88, 27690.16, 27673.44, 27656.72, 27640.00, 27623.28, 27606.56, 27589.84, 27573.12, 27556.40, 27539.68, 27522.96, 27506.24, 27489.52, 27472.80]}},
            "y2": {"field": "h"},
            "color": {"condition": [{"test": "datum.c > datum.o", "value": "#008000"}, {"test": "datum.c < datum.o", "value": "#ff8c00"}], "value": "#ffffff"}
          }
        },
        {
          "mark": {"type": "bar", "width": 3},
          "encoding": {
            "x": {"field": "t", "type": "temporal", "axis": null},
            "y": {"field": "o", "type": "quantitative", "axis": null},
            "y2": {"field": "c"},
            "color": {"condition": [{"test": "datum.c > datum.o", "value": "#008000"}, {"test": "datum.c < datum.o", "value": "#ff8c00"}], "value": "#ffffff"}
          }
        },
        {
          "transform": [{"filter": "datum.o == datum.c"}],
          "mark": {"type": "point", "shape": "stroke", "size": 9, "color": "#ffffff", "strokeWidth": 1},
          "encoding": {
            "x": {"field": "t", "type": "temporal", "axis": null},
            "y": {"field": "o", "type": "quantitative", "axis": null}
          }
        },
        {
          "data": {"values": [{"t": "14:15", "p": 27467.1}, {"t": "16:30", "p": 27455.9}], "format": {"parse": {"t": "utc:'%H:%M'"}}},
          "mark": {"type": "line", "color": "#00e5ff", "strokeWidth": 1, "clip": true},
          "encoding": {
            "x": {"field": "t", "type": "temporal", "axis": null},
            "y": {"field": "p", "type": "quantitative", "axis": null}
          }
        },
        {
          "data": {"name": "rounds"},
          "mark": {"type": "rule", "color": "#ff0000", "strokeWidth": 1.2, "strokeDash": [18, 6]},
          "encoding": {"y": {"field": "p", "type": "quantitative", "axis": null}}
        },
        {
          "data": {"name": "pivot"},
          "mark": {"type": "rule", "color": "#00ffff", "strokeWidth": 1.2, "strokeDash": [18, 6]},
          "encoding": {"y": {"field": "p", "type": "quantitative", "axis": null}}
        },
        {
          "data": {"values": [{"p": 27523.8}]},
          "mark": {"type": "rule", "color": "#e8903c", "strokeWidth": 1},
          "encoding": {"y": {"field": "p", "type": "quantitative", "axis": null}}
        },
        {
          "data": {"values": [{"p": 27502.9}]},
          "mark": {"type": "rule", "color": "#00e600", "strokeWidth": 1.2},
          "encoding": {"y": {"field": "p", "type": "quantitative", "axis": null}}
        },
        {
          "data": {"values": [{"t": "15:28", "p": 27870.4}, {"t": "15:25", "p": 27818.8}], "format": {"parse": {"t": "utc:'%H:%M'"}}},
          "mark": {"type": "rule", "color": "#00e600", "strokeWidth": 1.2, "clip": true},
          "encoding": {
            "x": {"field": "t", "type": "temporal", "axis": null},
            "x2": {"datum": {"year": 1900, "month": 1, "date": 1, "hours": 22, "minutes": 5, "utc": true}},
            "y": {"field": "p", "type": "quantitative", "axis": null}
          }
        },
        {
          "data": {"values": [
            {"t1": "17:15", "p1": 27727.5, "t2": "17:26", "p2": 27726.6},
            {"t1": "17:58", "p1": 27633.2, "t2": "18:07", "p2": 27679.0},
            {"t1": "18:08", "p1": 27679.0, "t2": "18:21", "p2": 27720.0},
            {"t1": "18:23", "p1": 27718.0, "t2": "18:52", "p2": 27762.6},
            {"t1": "18:56", "p1": 27747.0, "t2": "19:14", "p2": 27788.0},
            {"t1": "19:45", "p1": 27819.0, "t2": "20:44", "p2": 27574.0}],
            "format": {"parse": {"t1": "utc:'%H:%M'", "t2": "utc:'%H:%M'"}}},
          "mark": {"type": "rule", "color": "#ff5a30", "strokeWidth": 1, "strokeDash": [1.5, 3]},
          "encoding": {
            "x": {"field": "t1", "type": "temporal", "axis": null},
            "x2": {"field": "t2"},
            "y": {"field": "p1", "type": "quantitative", "axis": null},
            "y2": {"field": "p2"}
          }
        },
        {
          "data": {"values": [
            {"t": "17:15", "p": 27730.4}, {"t": "17:58", "p": 27633.2}, {"t": "18:08", "p": 27677.3},
            {"t": "18:22", "p": 27717.3}, {"t": "18:55", "p": 27744.5}, {"t": "19:43", "p": 27825.5}],
            "format": {"parse": {"t": "utc:'%H:%M'"}}},
          "mark": {"type": "point", "shape": "M0,1L1,0L0.4,0L0.4,-1L-0.4,-1L-0.4,0L-1,0Z", "size": 70, "filled": true, "color": "#e8442c", "stroke": "#ffffff", "strokeWidth": 1, "opacity": 1},
          "encoding": {
            "x": {"field": "t", "type": "temporal", "axis": null},
            "y": {"field": "p", "type": "quantitative", "axis": null}
          }
        },
        {
          "data": {"values": [
            {"t": "17:26", "p": 27724.3}, {"t": "18:07", "p": 27679.0}, {"t": "18:22", "p": 27722.5},
            {"t": "18:53", "p": 27762.8}, {"t": "19:15", "p": 27790.5}, {"t": "20:45", "p": 27566.9}],
            "format": {"parse": {"t": "utc:'%H:%M'"}}},
          "mark": {"type": "point", "shape": "M0,-1L1,0L0.4,0L0.4,1L-0.4,1L-0.4,0L-1,0Z", "size": 70, "filled": true, "color": "#1464b4", "stroke": "#ffffff", "strokeWidth": 1, "opacity": 1},
          "encoding": {
            "x": {"field": "t", "type": "temporal", "axis": null},
            "y": {"field": "p", "type": "quantitative", "axis": null}
          }
        },
        {
          "data": {"values": [{"t": "17:14", "p": 27730.4, "txt": "27723.38 -> 27726.44"}], "format": {"parse": {"t": "utc:'%H:%M'"}}},
          "mark": {"type": "text", "color": "#ffffff", "fontSize": 9.5, "align": "left", "baseline": "bottom", "angle": 0},
          "encoding": {"x": {"field": "t", "type": "temporal", "axis": null}, "y": {"field": "p", "type": "quantitative", "axis": null}, "text": {"field": "txt"}}
        },
        {
          "data": {"values": [{"t": "17:56", "p": 27633.7, "txt": "27630.35 -> 27681.18"}], "format": {"parse": {"t": "utc:'%H:%M'"}}},
          "mark": {"type": "text", "color": "#ffffff", "fontSize": 9.5, "align": "left", "baseline": "bottom", "angle": -67},
          "encoding": {"x": {"field": "t", "type": "temporal", "axis": null}, "y": {"field": "p", "type": "quantitative", "axis": null}, "text": {"field": "txt"}}
        },
        {
          "data": {"values": [{"t": "18:06", "p": 27679.0, "txt": "27674.59 -> 27706.48"}], "format": {"parse": {"t": "utc:'%H:%M'"}}},
          "mark": {"type": "text", "color": "#ffffff", "fontSize": 9.5, "align": "left", "baseline": "bottom", "angle": -59},
          "encoding": {"x": {"field": "t", "type": "temporal", "axis": null}, "y": {"field": "p", "type": "quantitative", "axis": null}, "text": {"field": "txt"}}
        },
        {
          "data": {"values": [{"t": "18:20", "p": 27721.0, "txt": "27715.46 -> 27765.29"}], "format": {"parse": {"t": "utc:'%H:%M'"}}},
          "mark": {"type": "text", "color": "#ffffff", "fontSize": 9.5, "align": "left", "baseline": "bottom", "angle": -36},
          "encoding": {"x": {"field": "t", "type": "temporal", "axis": null}, "y": {"field": "p", "type": "quantitative", "axis": null}, "text": {"field": "txt"}}
        },
        {
          "data": {"values": [{"t": "18:53", "p": 27746.0, "txt": "27744.24 -> 27792.27"}], "format": {"parse": {"t": "utc:'%H:%M'"}}},
          "mark": {"type": "text", "color": "#ffffff", "fontSize": 9.5, "align": "left", "baseline": "bottom", "angle": -50},
          "encoding": {"x": {"field": "t", "type": "temporal", "axis": null}, "y": {"field": "p", "type": "quantitative", "axis": null}, "text": {"field": "txt"}}
        },
        {
          "data": {"values": [{"t": "19:44", "p": 27823.6, "txt": "27823.97 -> 27599.52"}], "format": {"parse": {"t": "utc:'%H:%M'"}}},
          "mark": {"type": "text", "color": "#ffffff", "fontSize": 9.5, "align": "left", "baseline": "bottom", "angle": 62},
          "encoding": {"x": {"field": "t", "type": "temporal", "axis": null}, "y": {"field": "p", "type": "quantitative", "axis": null}, "text": {"field": "txt"}}
        },
        {
          "data": {"name": "rounds"},
          "mark": {"type": "point", "shape": "M-1,-0.22L1,-0.22L1,0.22L-1,0.22Z", "size": 1936, "filled": true, "color": "#ff0000", "opacity": 1},
          "encoding": {
            "x": {"datum": {"year": 1900, "month": 1, "date": 1, "hours": 22, "minutes": 7, "seconds": 8, "utc": true}, "type": "temporal", "axis": null},
            "y": {"field": "p", "type": "quantitative", "axis": null}
          }
        },
        {
          "data": {"name": "rounds"},
          "mark": {"type": "text", "color": "#400000", "fontSize": 9.5, "align": "center", "baseline": "middle"},
          "encoding": {
            "x": {"datum": {"year": 1900, "month": 1, "date": 1, "hours": 22, "minutes": 7, "seconds": 8, "utc": true}, "type": "temporal", "axis": null},
            "y": {"field": "p", "type": "quantitative", "axis": null},
            "text": {"field": "p", "format": ".2f"}
          }
        },
        {
          "data": {"name": "pivot"},
          "mark": {"type": "point", "shape": "M-1,-0.22L1,-0.22L1,0.22L-1,0.22Z", "size": 1936, "filled": true, "color": "#00ffff", "opacity": 1},
          "encoding": {
            "x": {"datum": {"year": 1900, "month": 1, "date": 1, "hours": 22, "minutes": 7, "seconds": 8, "utc": true}, "type": "temporal", "axis": null},
            "y": {"field": "p", "type": "quantitative", "axis": null}
          }
        },
        {
          "data": {"name": "pivot"},
          "mark": {"type": "text", "color": "#102060", "fontSize": 9.5, "align": "center", "baseline": "middle"},
          "encoding": {
            "x": {"datum": {"year": 1900, "month": 1, "date": 1, "hours": 22, "minutes": 7, "seconds": 8, "utc": true}, "type": "temporal", "axis": null},
            "y": {"field": "p", "type": "quantitative", "axis": null},
            "text": {"field": "p", "format": ".2f"}
          }
        }
      ]
    },
    {
      "width": 1860,
      "height": 135,
      "title": {"text": "Volumes 153", "offset": -12, "dx": 4},
      "transform": [{"window": [{"op": "lag", "field": "v", "as": "pv"}], "sort": [{"field": "t"}]}],
      "mark": {"type": "bar", "width": 1},
      "encoding": {
        "x": {"field": "t", "type": "temporal",
          "scale": {"type": "utc", "nice": false, "padding": 0, "domain": [
            {"year": 1900, "month": 1, "date": 1, "hours": 14, "minutes": 15, "seconds": 52, "milliseconds": 500, "utc": true},
            {"year": 1900, "month": 1, "date": 1, "hours": 22, "minutes": 0, "seconds": 52, "milliseconds": 500, "utc": true}]},
          "axis": {"title": null, "labelAlign": "left", "labelPadding": 2, "labelFlush": false,
            "labelExpr": "utcFormat(datum.value, '%H:%M') == '14:16' ? '8 Sep 2020' : '8 Sep ' + utcFormat(datum.value, '%H:%M')",
            "values": [
              {"year": 1900, "month": 1, "date": 1, "hours": 14, "minutes": 16, "utc": true},
              {"year": 1900, "month": 1, "date": 1, "hours": 14, "minutes": 32, "utc": true},
              {"year": 1900, "month": 1, "date": 1, "hours": 14, "minutes": 48, "utc": true},
              {"year": 1900, "month": 1, "date": 1, "hours": 15, "minutes": 4, "utc": true},
              {"year": 1900, "month": 1, "date": 1, "hours": 15, "minutes": 20, "utc": true},
              {"year": 1900, "month": 1, "date": 1, "hours": 15, "minutes": 36, "utc": true},
              {"year": 1900, "month": 1, "date": 1, "hours": 15, "minutes": 52, "utc": true},
              {"year": 1900, "month": 1, "date": 1, "hours": 16, "minutes": 8, "utc": true},
              {"year": 1900, "month": 1, "date": 1, "hours": 16, "minutes": 24, "utc": true},
              {"year": 1900, "month": 1, "date": 1, "hours": 16, "minutes": 40, "utc": true},
              {"year": 1900, "month": 1, "date": 1, "hours": 16, "minutes": 56, "utc": true},
              {"year": 1900, "month": 1, "date": 1, "hours": 17, "minutes": 12, "utc": true},
              {"year": 1900, "month": 1, "date": 1, "hours": 17, "minutes": 28, "utc": true},
              {"year": 1900, "month": 1, "date": 1, "hours": 17, "minutes": 44, "utc": true},
              {"year": 1900, "month": 1, "date": 1, "hours": 18, "minutes": 0, "utc": true},
              {"year": 1900, "month": 1, "date": 1, "hours": 18, "minutes": 16, "utc": true},
              {"year": 1900, "month": 1, "date": 1, "hours": 18, "minutes": 32, "utc": true},
              {"year": 1900, "month": 1, "date": 1, "hours": 18, "minutes": 48, "utc": true},
              {"year": 1900, "month": 1, "date": 1, "hours": 19, "minutes": 4, "utc": true},
              {"year": 1900, "month": 1, "date": 1, "hours": 19, "minutes": 20, "utc": true},
              {"year": 1900, "month": 1, "date": 1, "hours": 19, "minutes": 36, "utc": true},
              {"year": 1900, "month": 1, "date": 1, "hours": 19, "minutes": 52, "utc": true},
              {"year": 1900, "month": 1, "date": 1, "hours": 20, "minutes": 8, "utc": true},
              {"year": 1900, "month": 1, "date": 1, "hours": 20, "minutes": 24, "utc": true},
              {"year": 1900, "month": 1, "date": 1, "hours": 20, "minutes": 40, "utc": true},
              {"year": 1900, "month": 1, "date": 1, "hours": 20, "minutes": 56, "utc": true},
              {"year": 1900, "month": 1, "date": 1, "hours": 21, "minutes": 12, "utc": true}]}},
        "y": {"field": "v", "type": "quantitative",
          "scale": {"domain": [0, 893], "nice": false},
          "axis": {"orient": "right", "title": null, "values": [0, 893], "labelFlush": true}},
        "color": {"condition": {"test": "datum.pv == null || datum.v > datum.pv", "value": "#008000"}, "value": "#ff0000"}
      }
    }
  ]
}
